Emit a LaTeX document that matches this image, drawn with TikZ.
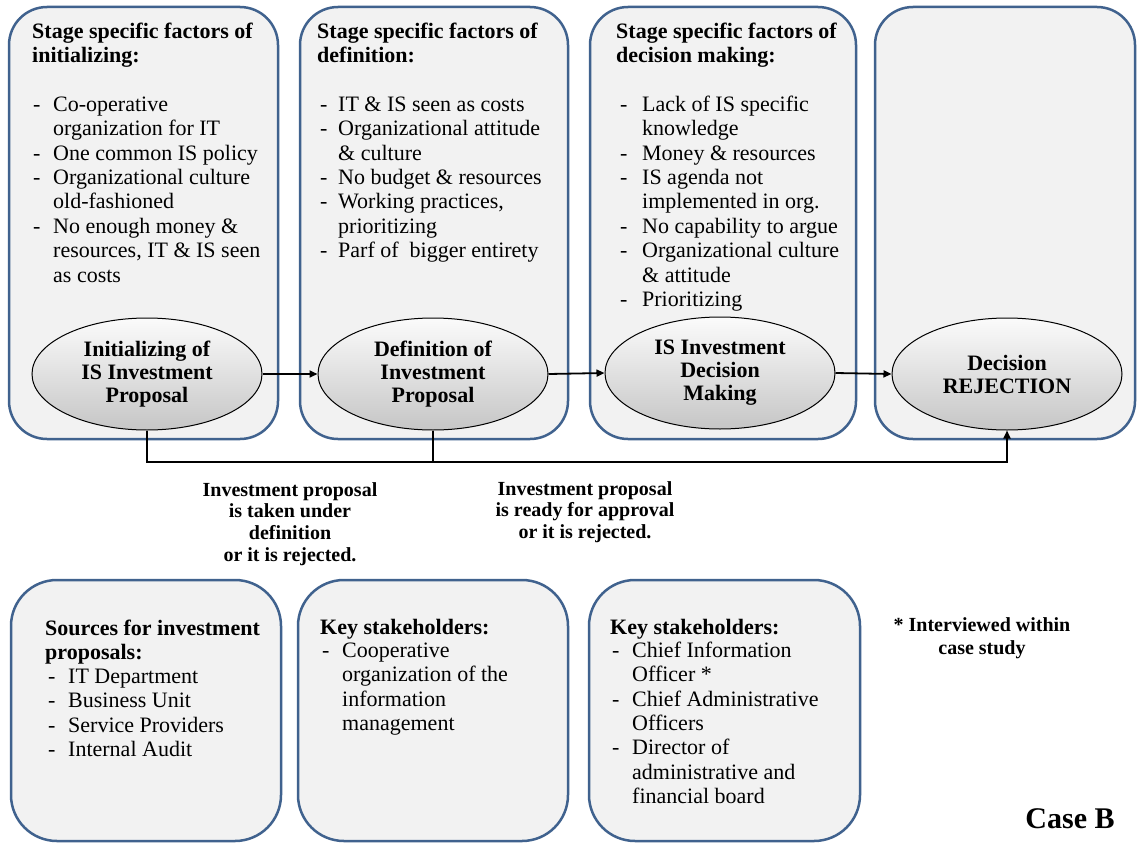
\documentclass[tikz,border=0pt]{standalone}
\usepackage{fontspec}
\setmainfont{Liberation Serif}
\usetikzlibrary{arrows.meta,shapes.geometric}
\definecolor{boxfill}{RGB}{242,242,242}
\definecolor{boxline}{RGB}{64,98,142}
\newcommand{\fst}{\rule{0pt}{17pt}}
\newcommand{\fsl}{\rule{0pt}{15pt}}
\newcommand{\li}[2][20pt]{\makebox[#1][l]{-}#2}
\newcommand{\lc}[2][20pt]{\hspace*{#1}#2}
\begin{document}
\begin{tikzpicture}[x=1pt,y=-1pt,
  box/.style={draw=boxline, line width=2.5pt, fill=boxfill, rounded corners=38pt, inner sep=0pt},
  lowbox/.style={box, rounded corners=46pt},
  stage/.style={ellipse, draw=black, line width=1pt, top color=gray!3, bottom color=gray!45,
    minimum width=230pt, minimum height=112pt, inner sep=0pt,
    font=\fontsize{22}{23}\selectfont\bfseries, align=center},
  txt/.style={anchor=north west, inner sep=0pt, align=left, font=\fontsize{22}{24.4}\selectfont},
  hd/.style={txt, font=\fontsize{22}{24.4}\selectfont\bfseries},
  lbl/.style={anchor=north, inner sep=0pt, align=center, font=\fontsize{20}{21.7}\selectfont\bfseries},
  conn/.style={line width=1.8pt, line join=miter},
  arr/.style={conn, -{Triangle[length=8pt,width=7pt]}}]

\useasboundingbox (0,0) rectangle (1137,843);
\fill[white] (0,0) rectangle (1137,843);

% top stage boxes
\node[box, minimum width=269pt, minimum height=432pt] (b1) at (143.5,223) {};
\node[box, minimum width=268pt, minimum height=432pt] (b2) at (434,223) {};
\node[box, minimum width=266pt, minimum height=432pt] (b3) at (723,223) {};
\node[box, minimum width=260pt, minimum height=432pt] (b4) at (1005,223) {};

% bottom boxes
\node[lowbox, minimum width=270pt, minimum height=261pt] (c1) at (146,710.5) {};
\node[lowbox, minimum width=270pt, minimum height=261pt] (c2) at (433,710.5) {};
\node[lowbox, minimum width=271pt, minimum height=261pt] (c3) at (724.5,710.5) {};

% box texts
\node[hd] (h1) at (32,21) {\fst Stage specific factors of\\initializing:};
\node[txt] (t1) at (33,94) {\fst\li{Co-operative}\\\lc{organization for IT}\\\li{One common IS policy}\\\li{Organizational culture}\\\lc{old-fashioned}\\\li{No enough money \&}\\\lc{resources, IT \& IS seen}\\\lc{as costs}};

\node[hd] (h2) at (317,21) {\fst Stage specific factors of\\definition:};
\node[txt] (t2) at (320,94) {\fst\li[18pt]{IT \& IS seen as costs}\\\li[18pt]{Organizational attitude}\\\lc[18pt]{\& culture}\\\li[18pt]{No budget \& resources}\\\li[18pt]{Working practices,}\\\lc[18pt]{prioritizing}\\\li[18pt]{Parf of\ \ bigger entirety}};

\node[hd] (h3) at (616,21) {\fst Stage specific factors of\\decision making:};
\node[txt] (t3) at (620,94) {\fst\li[22pt]{Lack of IS specific}\\\lc[22pt]{knowledge}\\\li[22pt]{Money \& resources}\\\li[22pt]{IS agenda not}\\\lc[22pt]{implemented in org.}\\\li[22pt]{No capability to argue}\\\li[22pt]{Organizational culture}\\\lc[22pt]{\& attitude}\\\li[22pt]{Prioritizing}};

\node[hd] (h4) at (45,618) {\fst Sources for investment\\proposals:};
\node[txt] (t4) at (48,666) {\fst\li{IT Department}\\\li{Business Unit}\\\li{Service Providers}\\\li{Internal Audit}};

\node[hd] (h5) at (320,617) {\fst Key stakeholders:};
\node[txt] (t5) at (322,640) {\fst\li{Cooperative}\\\lc{organization of the}\\\lc{information}\\\lc{management}};

\node[hd] (h6) at (610,617) {\fst Key stakeholders:};
\node[txt] (t6) at (612,640) {\fst\li{Chief Information}\\\lc{Officer *}\\\li{Chief Administrative}\\\lc{Officers}\\\li{Director of}\\\lc{administrative and}\\\lc{financial board}};

% stages
\node[stage] (e1) at (147,374) {Initializing of\\IS Investment\\Proposal};
\node[stage] (e2) at (433,374) {Definition of\\Investment\\Proposal};
\node[stage] (e3) at (720,373) {IS Investment\\Decision\\Making};
\node[stage] (e4) at (1007,374) {Decision\\REJECTION};

% connectors
\draw[arr] (e1.east) -- (e2.west);
\draw[arr] (e2.east) -- (e3.west);
\draw[arr] (e3.east) -- (e4.west);
\coordinate (j1) at (e1.south |- 0,462);
\coordinate (j4) at (e4.south |- 0,462);
\draw[arr] (e1.south) -- (j1) -- (j4) -- (e4.south);
\draw[conn] (e2.south) -- (e2.south |- j1);

% labels
\node[lbl] (l1) at (290,481) {\fsl Investment proposal\\is taken under\\definition\\or it is rejected.};
\node[lbl] (l2) at (585,480) {\fsl Investment proposal\\is ready for approval\\or it is rejected.};
\node[lbl, font=\fontsize{20}{23}\selectfont\bfseries] (note) at (982,616) {\fsl * Interviewed within\\case study};
\node[anchor=base, inner sep=0pt, font=\fontsize{30}{32}\selectfont\bfseries] (case) at (1070,828) {Case B};
\end{tikzpicture}
\end{document}
